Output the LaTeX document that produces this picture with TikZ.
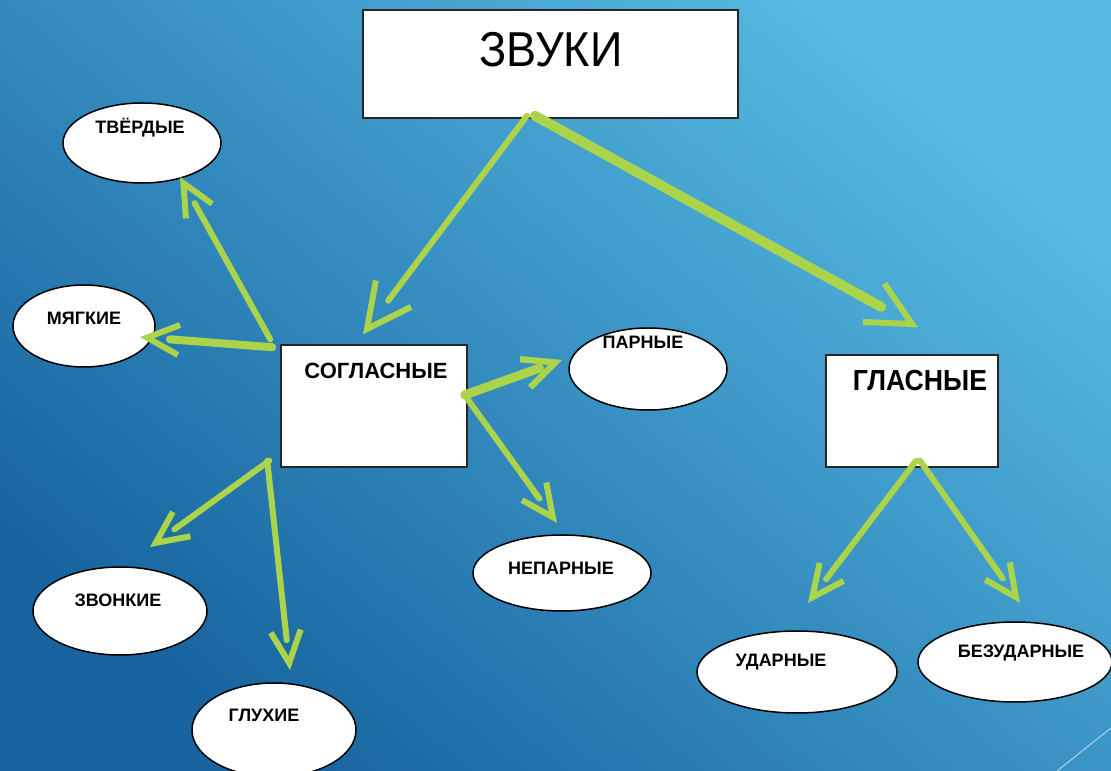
\documentclass[tikz,border=0pt]{standalone}
\usepackage{fontspec}
\setmainfont{Liberation Sans}
\newfontfamily\narrowfont[FakeStretch=0.92]{Liberation Sans}
\usetikzlibrary{shapes.geometric, arrows.meta, decorations.markings}
\definecolor{arrowgreen}{RGB}{172,212,74}
\definecolor{bgdark}{RGB}{24,100,160}
\definecolor{bgmid}{RGB}{42,140,198}
\definecolor{bglight}{RGB}{86,186,226}
\tikzset{
  box/.style={draw=black!85, fill=white, line width=1.5pt, inner sep=0pt},
  oval/.style={ellipse, draw=black, fill=white, line width=1.5pt, inner sep=0pt},
  lbl/.style={font=\fontsize{18}{18}\selectfont\bfseries},
  barb/.style n args={3}{shorten >=#3, postaction={decorate},
    decoration={markings, mark=at position 1 with
      {\arrow[arrowgreen, line width=6pt]{Straight Barb[length=#1, width=#2]}}}},
  conn/.style={draw=arrowgreen, line width=6pt, line cap=round, barb={32pt}{30pt}{30pt}},
  bigconn/.style={draw=arrowgreen, line width=6pt, line cap=round, barb={44pt}{44pt}{42pt}}
}
\begin{document}
\begin{tikzpicture}[x=1pt, y=1pt]
\useasboundingbox (0,0) rectangle (1111,771);
\shade[bottom color=bgdark, middle color=bgmid, top color=bglight, shading angle=-40] (0,0) rectangle (1111,771);
\draw[white, opacity=.6, line width=1pt] (1057,0) -- (1111,43);

% boxes
\node[box, minimum width=375pt, minimum height=108pt,
  label={[name=zvuki-l, font=\narrowfont\fontsize{49}{49}\selectfont, xshift=0.5pt, yshift=14pt]center:ЗВУКИ}] (zvuki) at (550.5,707) {};
\node[box, minimum width=186pt, minimum height=122pt,
  label={[name=sogl-l, font=\fontsize{22}{22}\selectfont\bfseries, xshift=2pt, yshift=35pt]center:СОГЛАСНЫЕ}] (sogl) at (374,365) {};
\node[box, minimum width=172pt, minimum height=112pt,
  label={[name=glas-l, font=\narrowfont\fontsize{29}{29}\selectfont\bfseries, xshift=8pt, yshift=30pt]center:ГЛАСНЫЕ}] (glas) at (912,360) {};

% ovals
\node[oval, minimum width=158pt, minimum height=80pt,
  label={[name=tverd-l, lbl, xshift=-2pt, yshift=15pt]center:ТВЁРДЫЕ}] (tverd) at (142,628) {};
\node[oval, minimum width=142pt, minimum height=82pt,
  label={[name=myagk-l, lbl, yshift=8pt]center:МЯГКИЕ}] (myagk) at (84,445) {};
\node[oval, minimum width=158pt, minimum height=82pt,
  label={[name=parn-l, lbl, xshift=-5pt, yshift=27pt]center:ПАРНЫЕ}] (parn) at (648,402) {};
\node[oval, minimum width=178pt, minimum height=76pt,
  label={[name=neparn-l, lbl, xshift=-1pt, yshift=5pt]center:НЕПАРНЫЕ}] (neparn) at (562,198) {};
\node[oval, minimum width=174pt, minimum height=88pt,
  label={[name=zvonk-l, lbl, xshift=-2pt, yshift=11pt]center:ЗВОНКИЕ}] (zvonk) at (120,160) {};
\node[oval, minimum width=164pt, minimum height=94pt,
  label={[name=gluh-l, lbl, xshift=-10pt, yshift=15pt]center:ГЛУХИЕ}] (gluh) at (274,41) {};
\node[oval, minimum width=200pt, minimum height=82pt,
  label={[name=udarn-l, lbl, xshift=-16pt, yshift=10pt]center:УДАРНЫЕ}] (udarn) at (797,99) {};
\node[oval, minimum width=194pt, minimum height=80pt,
  label={[name=bezud-l, lbl, xshift=6pt, yshift=9pt]center:БЕЗУДАРНЫЕ}] (bezud) at (1015,109) {};

% arrows
\draw[bigconn] ([xshift=-23.5pt, yshift=3pt]zvuki.south) -- ([xshift=-11pt, yshift=10pt]sogl.north);
\draw[bigconn, line width=10pt] ([xshift=-15.5pt, yshift=3pt]zvuki.south) -- ([xshift=6pt, yshift=27pt]glas.north);
\draw[conn] ([xshift=-10pt, yshift=5pt]sogl.north west) -- ([xshift=38pt, yshift=-34pt]tverd.center);
\draw[conn, line width=8pt] ([xshift=-8pt, yshift=-3pt]sogl.north west) -- ([xshift=56pt, yshift=-11pt]myagk.center);
\draw[conn, line width=9pt, barb={25pt}{30pt}{24pt}]
  ([xshift=-3pt, yshift=11pt]sogl.east) -- ([xshift=-86pt, yshift=9pt]parn.center);
\draw[conn] ([xshift=-1pt, yshift=8pt]sogl.east) -- ([xshift=-5pt, yshift=50pt]neparn.center);
\draw[conn] ([xshift=-11pt, yshift=7pt]sogl.south west) -- ([xshift=30pt, yshift=64pt]zvonk.center);
\draw[conn] ([xshift=-13pt, yshift=7pt]sogl.south west) -- ([xshift=16pt, yshift=60pt]gluh.center);
\draw[conn] ([xshift=4pt, yshift=7pt]glas.south) -- ([xshift=11pt, yshift=69pt]udarn.center);
\draw[conn] ([xshift=8pt, yshift=7pt]glas.south) -- ([xshift=5pt, yshift=59pt]bezud.center);
\end{tikzpicture}
\end{document}
